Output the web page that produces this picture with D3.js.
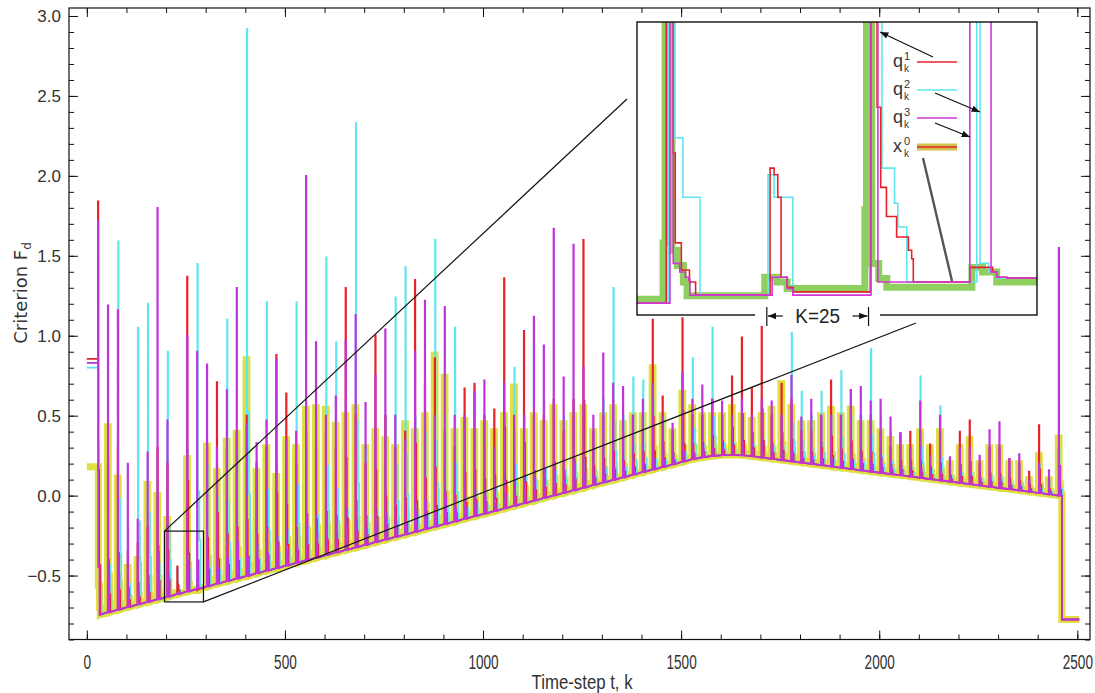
<!DOCTYPE html>
<html>
<head>
<meta charset="utf-8">
<script src="https://cdn.jsdelivr.net/npm/d3@7"></script>
<style>
  body { margin: 0; background: #fff; }
  svg { display: block; }
</style>
</head>
<body>
<svg id="chart" width="1095" height="693"></svg>
<script>
// ---- data -------------------------------------------------------------
// start step of every observation cycle (K = 25 steps apart)
const cycleStep = [28,53,78,103,128,153,178,203,228,253,278,303,328,353,378,403,428,453,478,503,
  528,553,578,603,628,653,678,703,728,753,778,803,828,853,878,903,928,953,978,1003,
  1028,1053,1078,1103,1128,1153,1178,1203,1228,1253,1278,1303,1328,1353,1378,1403,1428,1453,1478,1503,
  1528,1553,1578,1603,1628,1653,1678,1703,1728,1753,1778,1803,1828,1853,1878,1903,1928,1953,1978,2003,
  2028,2053,2078,2103,2128,2153,2178,2203,2228,2253,2278,2303,2328,2353,2378,2403,2428,2453];

// settled criterion value reached at the start of each cycle
const baseline = [-0.745,-0.729,-0.713,-0.696,-0.680,-0.664,-0.648,-0.632,-0.615,-0.599,
  -0.583,-0.567,-0.550,-0.534,-0.518,-0.502,-0.485,-0.469,-0.453,-0.437,
  -0.420,-0.404,-0.388,-0.372,-0.355,-0.339,-0.323,-0.307,-0.290,-0.274,
  -0.258,-0.242,-0.226,-0.209,-0.193,-0.177,-0.161,-0.144,-0.128,-0.112,
  -0.096,-0.079,-0.063,-0.047,-0.031,-0.014,0.002,0.018,0.034,0.050,
  0.067,0.083,0.099,0.115,0.132,0.148,0.164,0.180,0.196,0.213,
  0.229,0.240,0.248,0.253,0.255,0.252,0.246,0.238,0.230,0.222,
  0.214,0.206,0.198,0.190,0.182,0.174,0.166,0.158,0.150,0.142,
  0.134,0.127,0.119,0.111,0.103,0.095,0.087,0.079,0.071,0.063,
  0.055,0.047,0.040,0.032,0.024,0.016,0.008,0.000];

// peak of the criterion in each cycle, per estimator
const peakQ1 = [1.84,0.2,0.3,-0.35,-0.3,-0.2,0.3,0.2,-0.443,1.37,
  -0.593,0.3,0.71,0.3,0.4,0.5,0.2,0.3,0.88,0.64,
  0.2,0.4,0.3,0.4,0.3,1.30,0.5,0.2,1.00,0.5,
  0.3,0.4,1.35,0.70,0.86,0.4,0.3,0.67,0.70,0.50,
  0.54,1.36,0.4,1.03,0.5,0.5,0.6,0.4,0.6,1.60,
  0.4,0.5,0.6,0.4,0.5,0.5,1.10,0.62,0.4,1.11,
  0.5,0.5,0.6,0.5,0.745,0.99,0.67,1.10,0.5,0.70,
  0.6,0.4,0.4,0.5,0.72,0.5,0.66,0.5,0.5,0.4,
  0.3,0.39,0.40,0.4,0.32,0.4,0.2,0.40,0.47,0.2,
  0.3,0.3,0.23,0.2,0.15,0.44,0.1,0.3];
const peakQ2 = [0.30,0.25,1.59,-0.2,1.05,1.20,0.1,0.90,-0.453,0.3,
  1.45,0.2,0.0,1.10,0.3,2.92,0.1,1.21,0.2,0.3,
  1.21,0.3,0.5,1.49,0.96,0.5,2.33,0.3,0.4,0.5,
  1.24,1.43,0.5,0.4,1.60,0.5,1.05,0.3,0.4,0.3,
  0.4,0.5,0.80,0.5,0.4,0.6,0.5,0.5,0.6,0.5,
  0.4,0.6,1.30,0.5,0.74,0.72,0.6,0.5,0.4,0.6,
  0.86,0.5,1.05,0.5,0.5,0.5,0.5,0.6,0.5,0.5,
  1.02,0.65,0.5,0.65,0.5,0.78,0.5,0.5,0.92,0.5,
  0.4,0.3,0.3,0.745,0.3,0.56,0.2,0.3,0.3,0.2,
  0.3,0.3,0.2,0.2,0.1,0.2,0.1,0.3];
const peakQ3 = [1.72,1.19,1.16,0.20,-0.15,0.27,1.80,0.47,-0.608,1.00,
  0.90,0.82,0.3,0.66,1.30,0.45,0.33,0.47,0.85,0.35,
  0.40,2.00,0.96,0.5,0.62,0.97,1.13,0.58,0.75,1.04,
  0.50,0.35,0.90,1.22,0.5,1.18,0.50,0.50,0.65,0.72,
  0.3,0.70,0.5,0.5,1.12,0.94,1.67,0.74,1.57,0.8,
  0.50,0.89,0.7,0.68,0.5,0.6,0.7,0.5,0.45,0.77,
  0.6,0.69,0.6,0.59,0.5,0.6,0.5,0.6,0.59,0.5,
  0.75,0.49,0.60,0.5,0.5,0.5,0.66,0.68,0.59,0.60,
  0.49,0.39,0.3,0.59,0.25,0.50,0.24,0.3,0.3,0.25,
  0.41,0.46,0.23,0.26,0.1,0.2,0.16,1.55];
const peakX0 = [0.18,0.43,0.11,-0.45,-0.4,0.07,0.0,-0.15,-0.608,0.23,
  -0.593,0.31,0.15,0.34,0.39,0.85,0.15,0.3,0.12,0.35,
  0.3,0.54,0.55,0.54,0.44,0.5,0.55,0.3,0.4,0.35,
  0.3,0.45,0.40,0.5,0.88,0.74,0.4,0.47,0.4,0.45,
  0.4,0.5,0.68,0.4,0.5,0.45,0.55,0.45,0.5,0.55,
  0.4,0.5,0.55,0.45,0.5,0.5,0.80,0.5,0.4,0.64,
  0.55,0.5,0.5,0.5,0.55,0.5,0.47,0.5,0.54,0.70,
  0.55,0.45,0.45,0.5,0.54,0.5,0.54,0.45,0.45,0.4,
  0.35,0.3,0.3,0.4,0.3,0.4,0.2,0.3,0.35,0.2,
  0.3,0.3,0.2,0.2,0.1,0.25,0.1,0.36];

// values held before the first cycle: q1, q2, q3, x0
const initialValue = [0.855, 0.80, 0.83, 0.18];
// final drop after the last cycle: [step of drop, last step], value
const finalSteps = [2461, 2505];
const finalValue = -0.775;

// detail of the zoomed window (steps 196..294), [step, value] with steps held
const zoomSteps = [196.1, 294.4];
const zoomValues = [-0.665, -0.222];
const detailQ1 = [[196,-0.647],[203.3,0.2],[205.0,-0.420],[205.5,-0.556],[207,-0.597],[209,-0.615],[210.5,-0.635],
  [228.8,-0.443],[229.8,-0.453],[230.7,-0.487],[231.5,-0.608],[233.0,-0.623],[234.5,-0.630],
  [253.5,1.37],[255.1,-0.351],[256.0,-0.472],[257.4,-0.516],[259.9,-0.547],[262.8,-0.567],[263.6,-0.580],[264.0,-0.615],
  [277.9,-0.593],[283.5,-0.600],[284.5,-0.608],[287,-0.609],[295,-0.609]];
const detailQ2 = [[196,-0.647],[203.8,0.90],[205.4,-0.397],[207.4,-0.487],[211.6,-0.635],
  [228.3,-0.453],[229.8,-0.487],[234.4,-0.630],
  [253.3,0.3],[256.3,-0.443],[259.4,-0.496],[260.2,-0.532],[262.4,-0.615],
  [279.6,1.45],[280.4,-0.587],[282.5,-0.600],[284.5,-0.609],[295,-0.609]];
const detailQ3 = [[196,-0.647],[204.2,0.47],[205.0,-0.587],[206.6,-0.600],[208.0,-0.608],[208.8,-0.612],[209.1,-0.635],
  [229.3,-0.608],[233.0,-0.625],[234.4,-0.635],
  [253.6,1.00],[255.3,-0.615],
  [277.9,0.90],[283.1,-0.600],[284.5,-0.608],[287,-0.609],[295,-0.609]];
const detailX0 = [[196,-0.641],[202.5,-0.556],[203.0,-0.15],[204.7,-0.567],[206,-0.590],[207.5,-0.615],[208.4,-0.636],
  [227.5,-0.608],[230.5,-0.615],[233.0,-0.625],
  [252.1,-0.506],[252.5,0.23],[253.8,-0.587],[255.5,-0.610],[257.5,-0.623],
  [278.4,-0.593],[281,-0.600],[284.5,-0.615],[295,-0.617]];

const yTicks = [-0.5, 0.0, 0.5, 1.0, 1.5, 2.0, 2.5, 3.0];
const xTicks = [0, 500, 1000, 1500, 2000, 2500];
const legendSup = ["1", "2", "3", "0"];
const legendBase = ["q", "q", "q", "x"];

// ---- layout -----------------------------------------------------------
const svg = d3.select("#chart");
const P = { left: 69, right: 1090, top: 8, bottom: 639.5 };
const x = d3.scaleLinear().domain([-45, 2532]).range([P.left, P.right]);
const y = d3.scaleLinear().domain([-0.9, 3.05]).range([P.bottom, P.top]);

const colors = { q1: "#e8202a", q2: "#5fe6ee", q3: "#bf33dd", x0: "#dcdc2c", x0zoom: "#8fcf5f" };
const sansFont = "'Liberation Sans', Arial, sans-serif";

const defs = svg.append("defs");
defs.append("clipPath").attr("id", "plotClip")
  .append("rect").attr("x", P.left).attr("y", P.top)
  .attr("width", P.right - P.left).attr("height", P.bottom - P.top);

// step-shaped decay after each jump: [steps after jump, fraction of the jump left]
const shapes = {
  q1: { offset: 0, decay: [[1, 0.35], [3, 0.12], [6, 0]] },
  q2: { offset: 1, decay: [[1, 0.30], [5, 0.15], [8, 0]] },
  q3: { offset: 0, decay: [[1, 0.12], [4, 0]] },
  x0: { offset: -1, decay: [[2, 0.20], [5, 0.05], [7, 0]] }
};

function buildSeries(init, peaks, shape) {
  const pts = [[0, init]];
  cycleStep.forEach((k, i) => {
    const k0 = k + shape.offset, b = baseline[i], p = peaks[i];
    pts.push([k0, i === 0 ? init : b]);
    pts.push([k0, p]);
    let cur = p;
    shape.decay.forEach(([dk, f]) => {
      const v = b + f * (p - b);
      pts.push([k0 + dk, cur]);
      pts.push([k0 + dk, v]);
      cur = v;
    });
  });
  pts.push([finalSteps[0], baseline[baseline.length - 1]]);
  pts.push([finalSteps[0], finalValue]);
  pts.push([finalSteps[1], finalValue]);
  return pts;
}

const line = d3.line().x(d => x(d[0])).y(d => y(d[1]));
const gData = svg.append("g").attr("clip-path", "url(#plotClip)");

const series = [
  { key: "x0", pts: buildSeries(initialValue[3], peakX0, shapes.x0), width: 7, opacity: 0.9 },
  { key: "q2", pts: buildSeries(initialValue[1], peakQ2, shapes.q2), width: 1.8, opacity: 1 },
  { key: "q1", pts: buildSeries(initialValue[0], peakQ1, shapes.q1), width: 1.8, opacity: 1 },
  { key: "q3", pts: buildSeries(initialValue[2], peakQ3, shapes.q3), width: 1.8, opacity: 1 }
];
series.forEach(s => {
  gData.append("path").datum(s.pts)
    .attr("d", line)
    .attr("fill", "none")
    .attr("stroke", colors[s.key])
    .attr("stroke-width", s.width)
    .attr("stroke-opacity", s.opacity)
    .attr("stroke-linejoin", "miter");
});

// ---- axes -------------------------------------------------------------
const fmt = d3.format(".1f");
const yMinor = d3.range(-9, 31).map(v => v / 10);
const xMinor = d3.range(0, 2600, 100);

function styleAxis(g) {
  g.select(".domain").remove();
  g.selectAll("line").attr("stroke", "#111").attr("stroke-width", 1);
}

svg.append("g").attr("transform", `translate(${P.left},0)`)
  .call(d3.axisLeft(y).tickValues(yMinor).tickSize(-5).tickFormat("")).call(styleAxis);
svg.append("g").attr("transform", `translate(${P.right},0)`)
  .call(d3.axisRight(y).tickValues(yMinor).tickSize(-5).tickFormat("")).call(styleAxis);
svg.append("g").attr("transform", `translate(${P.right},0)`)
  .call(d3.axisRight(y).tickValues(yTicks).tickSize(-9).tickFormat("")).call(styleAxis);
const yAxis = svg.append("g").attr("transform", `translate(${P.left},0)`)
  .call(d3.axisLeft(y).tickValues(yTicks).tickSize(-9).tickPadding(8).tickFormat(fmt)).call(styleAxis);
yAxis.selectAll("text")
  .attr("font-family", sansFont)
  .attr("font-size", 17).attr("fill", "#333");

svg.append("g").attr("transform", `translate(0,${P.bottom})`)
  .call(d3.axisBottom(x).tickValues(xMinor).tickSize(-5).tickFormat("")).call(styleAxis);
svg.append("g").attr("transform", `translate(0,${P.top})`)
  .call(d3.axisTop(x).tickValues(xMinor).tickSize(-5).tickFormat("")).call(styleAxis);
svg.append("g").attr("transform", `translate(0,${P.top})`)
  .call(d3.axisTop(x).tickValues(xTicks).tickSize(-9).tickFormat("")).call(styleAxis);
const xAxis = svg.append("g").attr("transform", `translate(0,${P.bottom})`)
  .call(d3.axisBottom(x).tickValues(xTicks).tickSize(-9).tickPadding(15).tickFormat(d3.format("d"))).call(styleAxis);
xAxis.selectAll("text")
  .attr("font-family", sansFont)
  .attr("font-size", 20).attr("fill", "#333")
  .attr("transform", "scale(0.68,1)");

svg.append("rect")
  .attr("x", P.left).attr("y", P.top)
  .attr("width", P.right - P.left).attr("height", P.bottom - P.top)
  .attr("fill", "none").attr("stroke", "#111").attr("stroke-width", 1.2);

// axis titles
const xMid = (x(0) + x(2500)) / 2;
svg.append("g").attr("transform", `translate(${xMid},689) scale(0.8,1)`)
  .append("text")
  .attr("text-anchor", "middle")
  .attr("font-family", sansFont)
  .attr("font-size", 21).attr("fill", "#333")
  .text("Time-step t, k");

const yTitle = svg.append("text")
  .attr("transform", "translate(27,293) rotate(-90)")
  .attr("text-anchor", "middle")
  .attr("font-family", "'DejaVu Sans', sans-serif")
  .attr("font-size", 18).attr("fill", "#333");
yTitle.append("tspan").text("Criterion F");
yTitle.append("tspan").attr("font-size", 12).attr("dy", 4).text("d");

// ---- zoom window and inset --------------------------------------------
const zb = { x0: x(zoomSteps[0]), x1: x(zoomSteps[1]), y0: y(zoomValues[1]), y1: y(zoomValues[0]) };
svg.append("rect")
  .attr("x", zb.x0).attr("y", zb.y0).attr("width", zb.x1 - zb.x0).attr("height", zb.y1 - zb.y0)
  .attr("fill", "none").attr("stroke", "#111").attr("stroke-width", 1.2);
svg.append("line").attr("x1", zb.x0).attr("y1", zb.y0).attr("x2", 627).attr("y2", 99)
  .attr("stroke", "#111").attr("stroke-width", 1.2);
svg.append("line").attr("x1", zb.x1).attr("y1", zb.y1).attr("x2", 916).attr("y2", 323)
  .attr("stroke", "#111").attr("stroke-width", 1.2);

const I = { left: 637, right: 1037, top: 22, bottom: 315 };
const ix = d3.scaleLinear().domain(zoomSteps).range([I.left, I.right]);
const iy = d3.scaleLinear().domain(zoomValues).range([I.bottom, I.top]);

svg.append("rect").attr("x", I.left).attr("y", I.top)
  .attr("width", I.right - I.left).attr("height", I.bottom - I.top).attr("fill", "#fff");
defs.append("clipPath").attr("id", "insetClip")
  .append("rect").attr("x", I.left).attr("y", I.top)
  .attr("width", I.right - I.left).attr("height", I.bottom - I.top);

const iline = d3.line().x(d => ix(d[0])).y(d => iy(d[1])).curve(d3.curveStepAfter);
const gInset = svg.append("g").attr("clip-path", "url(#insetClip)");
[
  { pts: detailX0, color: colors.x0zoom, width: 7 },
  { pts: detailQ2, color: colors.q2, width: 1.6 },
  { pts: detailQ1, color: colors.q1, width: 1.6 },
  { pts: detailQ3, color: "#cf38d6", width: 1.6 }
].forEach(s => {
  gInset.append("path").datum(s.pts).attr("d", iline)
    .attr("fill", "none").attr("stroke", s.color).attr("stroke-width", s.width);
});

svg.append("rect").attr("x", I.left).attr("y", I.top)
  .attr("width", I.right - I.left).attr("height", I.bottom - I.top)
  .attr("fill", "none").attr("stroke", "#111").attr("stroke-width", 1.4);

// K = 25 marker on the inset frame
const kA = ix(cycleStep[8]), kB = ix(cycleStep[9]);
svg.append("rect").attr("x", 755).attr("y", 306).attr("width", 125).attr("height", 20).attr("fill", "#fff");
defs.append("marker").attr("id", "head").attr("viewBox", "0 0 10 10")
  .attr("refX", 10).attr("refY", 5).attr("markerWidth", 7).attr("markerHeight", 7)
  .attr("orient", "auto-start-reverse")
  .append("path").attr("d", "M0,1 L10,5 L0,9 z").attr("fill", "#111");
[kA, kB].forEach(v => svg.append("line").attr("x1", v).attr("x2", v).attr("y1", 307).attr("y2", 326)
  .attr("stroke", "#111").attr("stroke-width", 1.2));
svg.append("line").attr("x1", kA + 16).attr("x2", kA + 1).attr("y1", 316).attr("y2", 316)
  .attr("stroke", "#111").attr("stroke-width", 1.2).attr("marker-end", "url(#head)");
svg.append("line").attr("x1", kB - 16).attr("x2", kB - 1).attr("y1", 316).attr("y2", 316)
  .attr("stroke", "#111").attr("stroke-width", 1.2).attr("marker-end", "url(#head)");
svg.append("g").attr("transform", `translate(${(kA + kB) / 2},323) scale(0.9,1)`)
  .append("text").attr("text-anchor", "middle")
  .attr("font-family", sansFont)
  .attr("font-size", 21).attr("fill", "#222").text("K=25");

// legend
const legendY = [62, 90, 118, 147];
const legendColor = [colors.q1, colors.q2, "#cf38d6"];
legendY.forEach((ly, i) => {
  svg.append("text").attr("x", 893).attr("y", ly + 5)
    .attr("font-family", sansFont).attr("font-size", 18).attr("fill", "#333")
    .text(legendBase[i]);
  svg.append("text").attr("x", 904).attr("y", ly - 2)
    .attr("font-family", sansFont).attr("font-size", 11).attr("fill", "#333")
    .text(legendSup[i]);
  svg.append("text").attr("x", 904).attr("y", ly + 10)
    .attr("font-family", sansFont).attr("font-size", 10).attr("fill", "#333")
    .text("k");
  if (i < 3) {
    svg.append("line").attr("x1", 917).attr("x2", 957).attr("y1", ly).attr("y2", ly)
      .attr("stroke", legendColor[i]).attr("stroke-width", 1.6);
  } else {
    svg.append("line").attr("x1", 917).attr("x2", 957).attr("y1", ly).attr("y2", ly)
      .attr("stroke", "#cfc24a").attr("stroke-width", 7);
    svg.append("line").attr("x1", 917).attr("x2", 957).attr("y1", ly).attr("y2", ly)
      .attr("stroke", colors.q1).attr("stroke-width", 1.4);
  }
});

// pointers from legend entries to curves
const pointers = [
  { a: [933, 57], b: [880, 32] },
  { a: [935, 93], b: [980, 112] },
  { a: [935, 123], b: [970, 137] }
];
pointers.forEach(p => svg.append("line")
  .attr("x1", p.a[0]).attr("y1", p.a[1]).attr("x2", p.b[0]).attr("y2", p.b[1])
  .attr("stroke", "#111").attr("stroke-width", 1.2).attr("marker-end", "url(#head)"));
svg.append("line").attr("x1", 923).attr("y1", 158).attr("x2", 952).attr("y2", 281)
  .attr("stroke", "#555").attr("stroke-width", 2.4);
</script>
</body>
</html>
